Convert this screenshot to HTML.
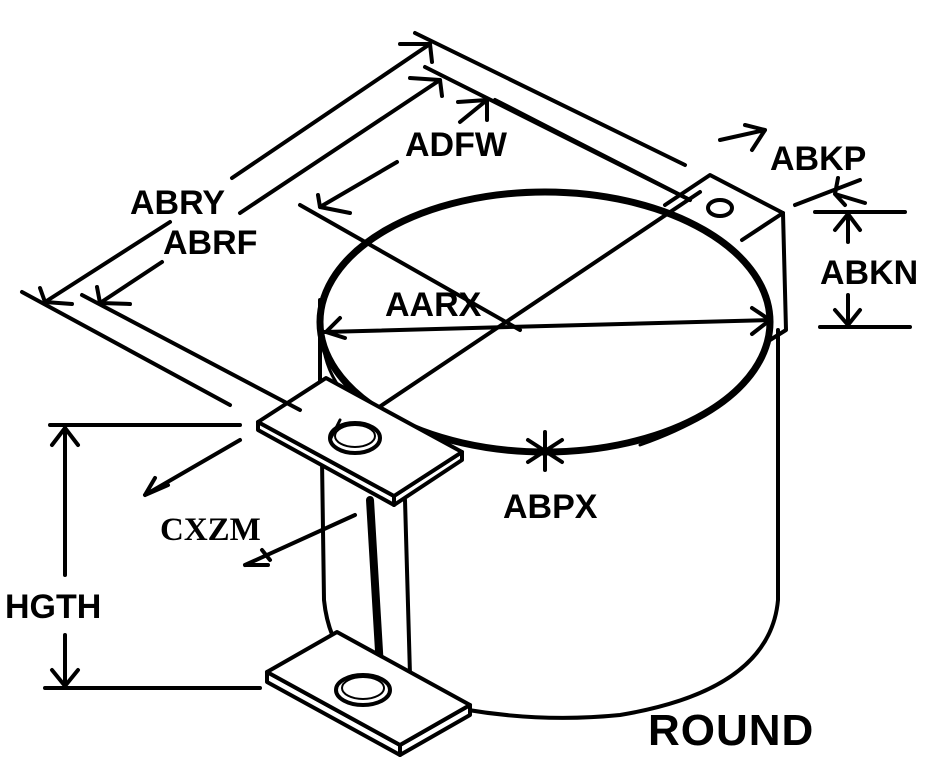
<!DOCTYPE html>
<html><head><meta charset="utf-8"><style>
html,body{margin:0;padding:0;background:#fff;}
svg{display:block;}
text{font-family:"Liberation Sans",sans-serif;font-weight:bold;fill:#000;}
</style></head><body>
<svg width="927" height="770" viewBox="0 0 927 770" xmlns="http://www.w3.org/2000/svg">
<g fill="none" stroke="#000" stroke-width="4" stroke-linecap="round" stroke-linejoin="round">
<!-- cylinder body -->
<path d="M320 300 L320 385"/>
<path d="M322 460 L324 600 Q330 660 380 690"/>
<path d="M778 330 L778 600 Q770 690 620 715 Q520 725 420 700"/>
<!-- top ellipse -->
<ellipse cx="545" cy="322" rx="225" ry="130" stroke-width="7"/>
<path d="M322 325 Q320 400 400 430" stroke-width="3"/>
<path d="M770 322 Q768 400 640 445" stroke-width="3"/>
<!-- diagonal -->
<path d="M330 440 L700 192"/>
<!-- strap -->
<path d="M370 500 L380 668" stroke-width="8"/>
<path d="M405 500 L410 675"/>
<!-- top tab -->
<path d="M258 422 L258 430 L394 505 L462 460 L462 452 L394 496 Z" fill="#fff"/>
<path d="M258 422 L326 378 L462 452 L394 496 Z" fill="#fff"/>
<path d="M394 496 L394 505"/>
<ellipse cx="355" cy="438" rx="25" ry="15" fill="#fff"/>
<ellipse cx="355" cy="436" rx="20" ry="11" stroke-width="2"/>
<path d="M340 420 L330 440" stroke-width="3"/>
<!-- bottom tab -->
<path d="M267 672 L267 682 L400 755 L470 715 L470 705 L400 745 Z" fill="#fff"/>
<path d="M267 672 L337 632 L470 705 L400 745 Z" fill="#fff"/>
<path d="M400 745 L400 755"/>
<ellipse cx="363" cy="690" rx="27" ry="15" fill="#fff"/>
<ellipse cx="363" cy="688" rx="21" ry="11" stroke-width="2"/>
<!-- right tab -->
<path d="M665 205 L710 175 L783 213 L742 240"/>
<path d="M783 213 L786 330 L770 340"/>
<ellipse cx="720" cy="208" rx="12" ry="8"/>
<!-- AARX -->
<path d="M324 332 L770 320"/>
<path d="M340 318 L326 332 L345 338 M752 308 L770 320 L752 334"/>
<!-- ABRY -->
<path d="M22 292 L230 405 M415 33 L685 165"/>
<path d="M45 302 L170 222 M232 178 L430 44"/>
<path d="M40 288 L45 302 L72 304 M400 44 L430 44 L432 62"/>
<!-- ABRF -->
<path d="M82 295 L300 410 M425 67 L690 200"/>
<path d="M100 303 L162 262 M240 213 L440 80"/>
<path d="M97 287 L100 303 L130 304 M410 78 L440 80 L442 96"/>
<!-- ADFW -->
<path d="M300 205 L520 330 M495 100 L690 200"/>
<path d="M320 207 L397 162"/>
<path d="M318 195 L320 207 L350 213 M458 102 L487 100 L487 120"/>
<path d="M460 122 L487 100"/>
<!-- ABKP -->
<path d="M720 140 L765 130 M745 125 L765 130 L752 150"/>
<path d="M795 205 L860 180 M838 178 L835 194 L865 203 M835 194 L845 205"/>
<!-- ABKN -->
<path d="M815 212 L905 212 M820 327 L910 327"/>
<path d="M848 242 L848 214 M835 230 L848 214 L860 230"/>
<path d="M848 295 L848 325 M835 310 L848 325 L860 310"/>
<!-- ABPX star -->
<path d="M545 432 L545 470 M528 440 L562 462 M528 462 L562 440"/>
<!-- HGTH -->
<path d="M50 425 L240 425 M45 688 L260 688"/>
<path d="M65 428 L65 575 M65 635 L65 686"/>
<path d="M52 445 L65 428 L78 445 M52 670 L65 686 L78 670"/>
<!-- CXZM -->
<path d="M145 495 L240 440 M145 495 L168 485 M145 495 L155 478"/>
<path d="M245 565 L355 515 M245 565 L268 565 M262 550 L270 560"/>
</g>
<text x="130" y="214" font-size="34">ABRY</text>
<text x="163" y="254" font-size="34">ABRF</text>
<text x="405" y="156" font-size="34">ADFW</text>
<text x="770" y="170" font-size="34">ABKP</text>
<text x="820" y="284" font-size="34">ABKN</text>
<text x="385" y="316" font-size="34">AARX</text>
<text x="503" y="518" font-size="34">ABPX</text>
<text x="160" y="540" font-size="33" style="font-family:'Liberation Serif',serif">CXZM</text>
<text x="5" y="618" font-size="34">HGTH</text>
<text x="648" y="745" font-size="44" style="letter-spacing:1px">ROUND</text>
</svg>
</body></html>
